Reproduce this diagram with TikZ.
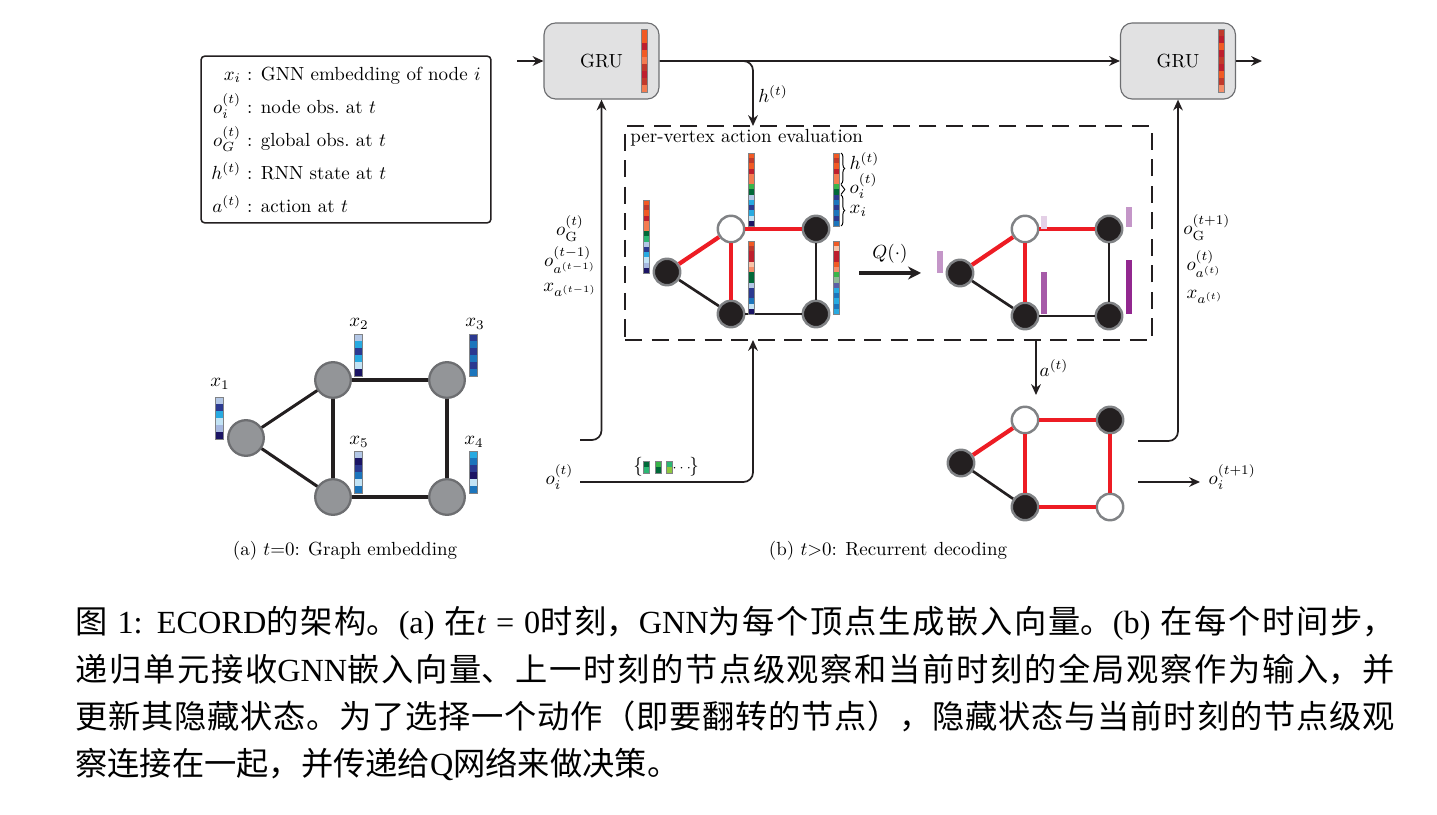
\documentclass[tikz,border=0pt]{standalone}
\usepackage{amsmath}
\usepackage{fontspec}
\usepackage{tikz}
\usetikzlibrary{arrows.meta, positioning, calc, decorations.pathreplacing}
\newfontfamily\cjk{Noto Sans CJK SC}
\newfontfamily\capfont{Liberation Serif}
\newcommand{\zh}[1]{{\cjk #1}}
% node / line colours
\definecolor{cInk}{RGB}{35,31,32}
\definecolor{cRim}{RGB}{109,110,113}
\definecolor{cRimB}{RGB}{128,130,133}
\definecolor{cNodeGray}{RGB}{147,149,152}
\definecolor{cBoxGray}{RGB}{225,225,226}
\definecolor{cRed}{RGB}{237,28,36}
% embedding cells
\definecolor{cOr}{RGB}{241,90,36}
\definecolor{cBr}{RGB}{193,57,43}
\definecolor{cRd}{RGB}{190,30,45}
\definecolor{cLo}{RGB}{244,123,80}
\definecolor{cPe}{RGB}{249,195,168}
\definecolor{cSa}{RGB}{245,142,106}
\definecolor{cGn}{RGB}{57,181,74}
\definecolor{cDg}{RGB}{0,104,56}
\definecolor{cTg}{RGB}{43,182,115}
\definecolor{cGg}{RGB}{143,185,150}
\definecolor{cYg}{RGB}{141,198,63}
\definecolor{cLb}{RGB}{179,199,230}
\definecolor{cNv}{RGB}{43,57,144}
\definecolor{cCy}{RGB}{39,170,225}
\definecolor{cPa}{RGB}{194,227,245}
\definecolor{cDn}{RGB}{27,20,100}
\definecolor{cBl}{RGB}{28,117,188}
\definecolor{cLv}{RGB}{166,184,224}
\definecolor{cPb}{RGB}{91,94,166}
% Q values
\definecolor{cQa}{RGB}{228,208,230}
\definecolor{cQb}{RGB}{196,150,200}
\definecolor{cQc}{RGB}{166,90,168}
\definecolor{cQd}{RGB}{146,39,143}
\tikzset{
	legend/.style  ={rectangle, rounded corners=2pt, draw=cInk, line width=0.8pt, minimum width=5.37cm, minimum height=3.09cm, inner sep=0pt},
	gru/.style     ={rectangle, rounded corners=0.22cm, draw=cRim, fill=cBoxGray, line width=0.6pt, minimum width=2.13cm, minimum height=1.41cm},
	evalbox/.style ={rectangle, draw=cInk, line width=0.8pt, dash pattern=on 9pt off 5pt, minimum width=9.76cm, minimum height=3.96cm},
	lbl/.style     ={inner sep=0.5pt},
	% graph nodes
	gnode/.style   ={circle, fill=cNodeGray, draw=cRim, line width=1.2pt, minimum size=0.66cm, inner sep=0pt},
	bnode/.style   ={circle, fill=cInk, draw=cRimB, line width=1.3pt, minimum size=0.49cm, inner sep=0pt},
	wnode/.style   ={circle, fill=white, draw=cRimB, line width=1.3pt, minimum size=0.49cm, inner sep=0pt},
	aedge/.style   ={draw=cInk, line width=1.6pt},
	kedge/.style   ={draw=cInk, line width=1.4pt},
	redge/.style   ={draw=cRed, line width=2.2pt},
	% connectors
	sig/.style     ={-{Stealth[length=2mm, width=1.8mm]}, line width=0.9pt, draw=cInk},
	qarrow/.style  ={-{Stealth[length=2.4mm, width=2.4mm]}, line width=2pt, draw=cInk},
	vecrim/.style  ={draw=cRimB, line width=0.4pt},
	brc/.style     ={decorate, decoration={brace, amplitude=2pt}, line width=0.5pt},
}
% column of coloured cells: x, y (top), cell width, cell height, count, colours
\newcommand{\embvec}[6]{%
	\foreach \cc [count=\k from 0] in {#6}
		{\fill[\cc] (#1,{#2+\k*#4}) rectangle ++(#3,#4);}
	\draw[vecrim] (#1,#2) rectangle ++(#3,{#5*#4});
}

\begin{document}
\begin{tikzpicture}[x=0.0185185cm, y=-0.0185185cm, font=\normalsize]
	\useasboundingbox (0,0) rectangle (1437,815);
	% legend
	\node[legend] (leg) at (346,139.5) {\renewcommand{\arraystretch}{1.45}%
		\begin{tabular}{@{}r@{ : }l@{}}
			$x_i$ & GNN embedding of node $i$\\
			$o_i^{(t)}$ & node obs.\ at $t$\\
			$o_G^{(t)}$ & global obs.\ at $t$\\
			$h^{(t)}$ & RNN state at $t$\\
			$a^{(t)}$ & action at $t$
		\end{tabular}};
	
	% (a) graph embedding
	\node[gnode] (n1) at (246,438) {};
	\node[gnode] (n2) at (333,380) {};
	\node[gnode] (n3) at (447,380) {};
	\node[gnode] (n4) at (447,497) {};
	\node[gnode] (n5) at (333,497) {};
	\draw[aedge] (n1) -- (n2);
	\draw[aedge] (n1) -- (n5);
	\draw[aedge] (n2) -- (n3);
	\draw[aedge] (n2) -- (n5);
	\draw[aedge] (n3) -- (n4);
	\draw[aedge] (n5) -- (n4);
	\embvec{215}{397}{8}{7.1}{6}{cLb,cNv,cCy,cPa,cLv,cDn}
	\embvec{354}{334}{8}{7.1}{6}{cLb,cCy,cNv,cCy,cPa,cDn}
	\embvec{469}{334}{8}{7.1}{6}{cNv,cBl,cNv,cBl,cNv,cBl}
	\embvec{469}{451}{8}{7.1}{6}{cCy,cBl,cNv,cDn,cPa,cBl}
	\embvec{354}{451}{8}{7.1}{6}{cLb,cDn,cNv,cBl,cPa,cBl}
	\node (l1) at (220,384) {$x_1$};
	\node (l2) at (359,324) {$x_2$};
	\node (l3) at (475,324) {$x_3$};
	\node (l4) at (474,442) {$x_4$};
	\node (l5) at (359,442) {$x_5$};
	\node (capa) at (345,551) {(a) $t{=}0$: Graph embedding};
	
	% (b) recurrent decoding
	\node[gru] (gru1) at (601.5,61) {GRU};
	\node[gru] (gru2) at (1178,61) {GRU};
	\embvec{641}{29}{6}{7}{9}{cOr,cOr,cRd,cOr,cLo,cBr,cRd,cBr,cLo}
	\embvec{1218}{29}{6}{7}{9}{cBr,cRd,cOr,cRd,cBr,cRd,cOr,cBr,cSa}
	\coordinate (hin) at (517,61);
	\coordinate (hout) at (1262,61);
	\draw[sig] (hin) -- (gru1);
	\draw[sig] (gru1) -- (gru2);
	\draw[sig] (gru2) -- (hout);
	
	\node[evalbox] (eval) at (888.5,233) {};
	\node[lbl, anchor=base west] (evl) at (629,143) {per-vertex action evaluation};
	\coordinate (htop) at (753,126);
	\draw[sig, rounded corners=5pt] (gru1.east) -| (htop);
	\node (hl) at (773,94) {$h^{(t)}$};
	
	% inputs of the first GRU
	\coordinate (gin) at (580,440);
	\draw[sig, rounded corners=5pt] (gin) -| (gru1.south);
	\node[lbl, align=center] (lgobs) at (570,256)
		{$o_{\mathrm{G}}^{(t)}$\\[1.5pt] $o_{a^{(t-1)}}^{(t-1)}$\\[1.5pt] $x_{a^{(t-1)}}$};
	\coordinate (oin) at (580,482);
	\coordinate (ebot) at (753,340);
	\draw[sig, rounded corners=5pt] (oin) -| (ebot);
	\node[anchor=east] (oil) at (580,477) {$o_i^{(t)}$};
	\node[lbl] (lbr) at (638,467) {$\{$};
	\embvec{643}{461}{6}{6}{2}{cDg,cTg}
	\embvec{655}{461}{6}{6}{2}{cGn,cDg}
	\embvec{666}{461}{6}{6}{2}{cTg,cYg}
	\node[lbl, font=\scriptsize] (dts) at (683,468) {$\cdots$};
	\node[lbl] (rbr) at (694,467) {$\}$};
	
	% per-vertex evaluation graph
	\node[bnode] (b1) at (667,272) {};
	\node[wnode] (b2) at (731,229) {};
	\node[bnode] (b3) at (816,229) {};
	\node[bnode] (b4) at (816,314) {};
	\node[bnode] (b5) at (731,314) {};
	\draw[redge] (b1) -- (b2);
	\draw[kedge] (b1) -- (b5);
	\draw[redge] (b2) -- (b3);
	\draw[redge] (b2) -- (b5);
	\draw[kedge] (b3) -- (b4);
	\draw[kedge] (b5) -- (b4);
	\embvec{643}{200}{6}{5.21}{14}{cOr,cBr,cOr,cRd,cLo,cLo,cDg,cTg,cLb,cNv,cCy,cPa,cLv,cDn}
	\embvec{748}{153}{6}{5.21}{14}{cOr,cBr,cOr,cRd,cLo,cLo,cGn,cDg,cLb,cCy,cNv,cCy,cPa,cDn}
	\embvec{833}{153}{6}{5.21}{14}{cOr,cBr,cOr,cRd,cLo,cLo,cGn,cDg,cNv,cBl,cNv,cBl,cNv,cBl}
	\embvec{748}{241}{6}{5.21}{14}{cOr,cBr,cRd,cRd,cPe,cSa,cDg,cDg,cLb,cNv,cNv,cBl,cPa,cDn}
	\embvec{833}{241}{6}{5.21}{14}{cOr,cPe,cRd,cRd,cOr,cSa,cGn,cGg,cPb,cCy,cBl,cCy,cBl,cCy}
	\draw[brc] (841,153) -- (841,184);
	\draw[brc] (841,184.5) -- (841,194.5);
	\draw[brc] (841,195) -- (841,226);
	\node[anchor=west] (bh) at (843,161) {$h^{(t)}$};
	\node[anchor=west] (bo) at (843,186) {$o_i^{(t)}$};
	\node[anchor=west] (bx) at (843,211) {$x_i$};
	
	\coordinate (qs) at (859,273);
	\coordinate (qe) at (921,273);
	\draw[qarrow] (qs) -- node[above=1pt] (ql) {$Q(\cdot)$} (qe);
	
	% Q values per vertex
	\node[bnode] (q1) at (960,273) {};
	\node[wnode] (q2) at (1025,229) {};
	\node[bnode] (q3) at (1109,229) {};
	\node[bnode] (q4) at (1109,316) {};
	\node[bnode] (q5) at (1025,316) {};
	\draw[redge] (q1) -- (q2);
	\draw[kedge] (q1) -- (q5);
	\draw[redge] (q2) -- (q3);
	\draw[redge] (q2) -- (q5);
	\draw[kedge] (q3) -- (q4);
	\draw[kedge] (q5) -- (q4);
	\fill[cQb] (937,251) rectangle (943,273);
	\fill[cQa] (1041,216) rectangle (1047,229);
	\fill[cQb] (1126,207) rectangle (1132,227);
	\fill[cQc] (1041,272) rectangle (1047,314);
	\fill[cQd] (1126,260) rectangle (1132,314);
	
	% action
	\coordinate (abot) at (1036,340);
	\coordinate (aend) at (1036,395);
	\draw[sig] (abot) -- (aend);
	\node (al) at (1054,368) {$a^{(t)}$};
	
	% graph after the flip
	\node[bnode] (f1) at (961,463) {};
	\node[wnode] (f2) at (1025,420) {};
	\node[bnode] (f3) at (1110,420) {};
	\node[wnode] (f4) at (1110,507) {};
	\node[bnode] (f5) at (1025,507) {};
	\draw[redge] (f1) -- (f2);
	\draw[kedge] (f1) -- (f5);
	\draw[redge] (f2) -- (f3);
	\draw[redge] (f2) -- (f5);
	\draw[redge] (f3) -- (f4);
	\draw[redge] (f5) -- (f4);
	
	% inputs of the next GRU
	\coordinate (gout) at (1138,441);
	\draw[sig, rounded corners=5pt] (gout) -| (gru2.south);
	\node[lbl, anchor=west, align=left] (rgobs) at (1182,259)
		{$o_{\mathrm{G}}^{(t+1)}$\\[4pt] $\,o_{a^{(t)}}^{(t)}$\\[3pt] $\,x_{a^{(t)}}$};
	\coordinate (os) at (1138,482);
	\coordinate (oe) at (1200,482);
	\draw[sig] (os) -- (oe);
	\node[anchor=west] (onext) at (1202,477) {$o_i^{(t+1)}$};
	\node (capb) at (888,551) {(b) $t{>}0$: Recurrent decoding};
	
	% figure caption
	\node[anchor=north west, inner sep=0pt, text width=24.44cm, align=justify,
		font=\capfont\fontsize{17pt}{25pt}\selectfont] (figcap) at (75,606) {%
		\XeTeXlinebreaklocale "zh"\XeTeXlinebreakskip=0pt plus 2pt%
		\zh{图} 1: ECORD\zh{的架构。}(a) \zh{在}\textit{t} = 0\zh{时刻，}GNN\zh{为每个顶点生成嵌入向量。}(b) \zh{在每个时间步，}\linebreak
		\zh{递归单元接收}GNN\zh{嵌入向量、上一时刻的节点级观察和当前时刻的全局观察作为输入，并}\linebreak
		\zh{更新其隐藏状态。为了选择一个动作（即要翻转的节点），隐藏状态与当前时刻的节点级观}\linebreak
		\zh{察连接在一起，并传递给}Q\zh{网络来做决策。}};
\end{tikzpicture}
\end{document}
